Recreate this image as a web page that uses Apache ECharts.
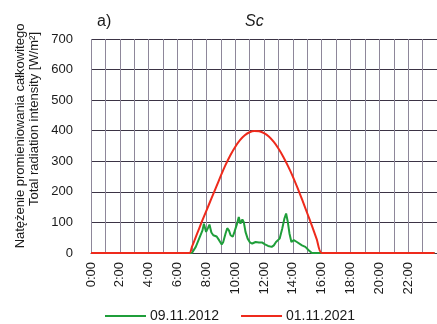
<!DOCTYPE html>
<html>
<head>
<meta charset="utf-8">
<script src="https://cdn.jsdelivr.net/npm/echarts@6/dist/echarts.min.js"></script>
<style>
  html, body { margin: 0; padding: 0; background: #ffffff; }
  #chart { width: 437px; height: 324px; }
</style>
</head>
<body>
<div id="chart"></div>
<script>
// Total radiation intensity over the day, two measurement days
const seriesNames = ['09.11.2012', '01.11.2021'];

const greenTimes = ['0:00', '7:00', '7:16', '7:30', '7:44', '7:50', '7:59', '8:07', '8:13', '8:21',
  '8:29', '8:43', '8:53', '9:04', '9:10', '9:20', '9:27', '9:34', '9:41', '9:50',
  '9:57', '10:08', '10:15', '10:22', '10:30', '10:36', '10:43', '10:52', '11:01', '11:11',
  '11:25', '11:39', '11:53', '12:04', '12:17', '12:32', '12:41', '12:50', '12:58', '13:05',
  '13:16', '13:25', '13:32', '13:39', '13:46', '13:54', '14:04', '14:11', '14:17', '14:25',
  '14:38', '14:52', '15:06', '15:19', '23:50'];
const greenValues = [0, 0, 20, 47, 74, 96, 69, 82, 93, 67,
  58, 54, 42, 28, 35, 64, 81, 74, 58, 53,
  69, 96, 118, 96, 110, 101, 69, 47, 35, 31,
  36, 34, 34, 28, 23, 20, 25, 36, 31, 47,
  80, 113, 129, 102, 64, 36, 42, 47, 36, 31,
  25, 20, 9, 0, 0];

const redTimes = ['0:00', '6:50', '7:00', '7:20', '7:40', '8:00', '8:20', '8:40', '9:00', '9:20',
  '9:40', '10:00', '10:20', '10:40', '11:00', '11:20', '11:40', '12:00', '12:20', '12:40',
  '13:00', '13:20', '13:40', '14:00', '14:20', '14:40', '15:00', '15:20', '15:40', '16:00',
  '23:50'];
const redValues = [0, 0, 20, 60, 100, 138, 176, 214, 252, 288,
  320, 347, 369, 385, 395, 399, 398, 392, 381, 364,
  342, 315, 284, 250, 212, 172, 130, 88, 44, 0,
  0];

const xTickLabels = ['0:00', '2:00', '4:00', '6:00', '8:00', '10:00', '12:00',
  '14:00', '16:00', '18:00', '20:00', '22:00'];
const yTickLabels = ['0', '100', '200', '300', '400', '500', '600', '700'];

const toHours = t => { const [h, m] = t.split(':').map(Number); return h + m / 60; };
const pairs = (times, values) => times.map((t, i) => [toHours(t), values[i]]);

const FONT = '"Liberation Sans", Arial, sans-serif';
const TEXT = '#1a1a1a';

const chart = echarts.init(document.getElementById('chart'), null, { renderer: 'canvas' });
chart.setOption({
  animation: false,
  backgroundColor: '#ffffff',
  textStyle: { fontFamily: FONT, color: TEXT },
  grid: { left: 91, right: -2, top: 39, bottom: 71, containLabel: false },
  xAxis: {
    type: 'value',
    min: 0, max: 24, interval: 1,
    axisLine: { show: true, onZero: false, lineStyle: { color: '#3b3345', width: 1 } },
    axisTick: { show: false },
    axisLabel: {
      rotate: 90, margin: 9, fontSize: 13, color: TEXT, fontFamily: FONT,
      formatter: v => (v % 2 === 0 && v < 24) ? xTickLabels[v / 2] : ''
    },
    splitLine: { show: true, lineStyle: { color: '#8e879a', width: 1 } }
  },
  yAxis: {
    type: 'value',
    min: 0, max: 700, interval: 100,
    axisLine: { show: false },
    axisTick: { show: false },
    axisLabel: {
      margin: 18, fontSize: 13, color: TEXT, fontFamily: FONT,
      formatter: v => yTickLabels[v / 100]
    },
    splitLine: { show: true, lineStyle: { color: '#3b3345', width: 1 } }
  },
  legend: {
    left: 100, top: 304,
    itemWidth: 41, itemHeight: 2, itemGap: 22,
    icon: 'rect',
    textStyle: { fontSize: 14, color: TEXT, fontFamily: FONT, padding: [0, 0, 0, -1] },
    data: seriesNames
  },
  series: [
    {
      name: seriesNames[0], type: 'line', data: pairs(greenTimes, greenValues),
      showSymbol: false, smooth: false,
      lineStyle: { color: '#1f9e3a', width: 2 }, itemStyle: { color: '#1f9e3a' }
    },
    {
      name: seriesNames[1], type: 'line', data: pairs(redTimes, redValues),
      showSymbol: false, smooth: 0.2,
      lineStyle: { color: '#ee2a1c', width: 2 }, itemStyle: { color: '#ee2a1c' }
    }
  ],
  graphic: [
    { type: 'text', left: 97, top: 14,
      style: { text: 'a)', font: '16px ' + FONT, fill: TEXT } },
    { type: 'text', left: 245, top: 14,
      style: { text: 'Sc', font: 'italic 16px ' + FONT, fill: TEXT } },
    { type: 'text', x: 20, y: 136, rotation: Math.PI / 2,
      style: { text: 'Natężenie promieniowania całkowitego', font: '13px ' + FONT, fill: TEXT,
        align: 'center', verticalAlign: 'middle' } },
    { type: 'text', x: 34, y: 119, rotation: Math.PI / 2,
      style: { text: 'Total radiation intensity [W/m²]', font: '13px ' + FONT, fill: TEXT,
        align: 'center', verticalAlign: 'middle' } }
  ]
});
</script>
</body>
</html>
